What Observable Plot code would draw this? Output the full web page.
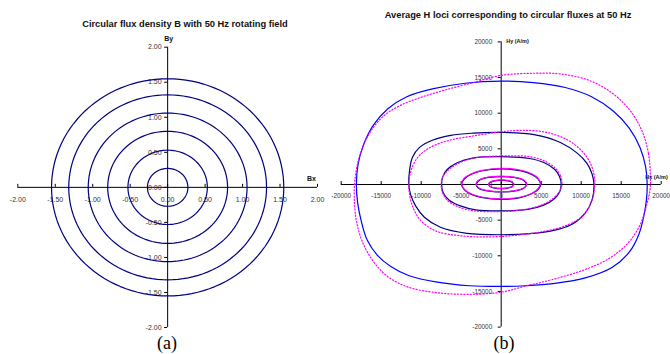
<!DOCTYPE html>
<html><head><meta charset="utf-8">
<script src="https://cdn.jsdelivr.net/npm/d3@7"></script>
<script src="https://cdn.jsdelivr.net/npm/@observablehq/plot@0.6"></script>
<style>
body{margin:0;background:#fff;}
#wrap{position:relative;width:670px;height:354px;overflow:hidden;font-family:"Liberation Sans",Arial,sans-serif;background:#fff;}
.t{position:absolute;font-weight:bold;font-size:9.3px;line-height:1;white-space:nowrap;transform:translateX(-50%);color:#111;}
.p{position:absolute;font-family:"Liberation Serif","Times New Roman",serif;font-size:18px;line-height:1;transform:translateX(-50%);color:#000;}
.pl{position:absolute;top:0;}
</style></head><body>
<div id="wrap">
  <div class="pl" id="pa" style="left:0"></div>
  <div class="pl" id="pb" style="left:335px"></div>
  <div class="t" style="left:185px;top:20px">Circular flux density B with 50 Hz rotating field</div>
  <div class="t" style="left:508px;top:11px">Average H loci corresponding to circular fluxes at 50 Hz</div>
  <div class="p" style="left:167px;top:334px">(a)</div>
  <div class="p" style="left:504px;top:334px">(b)</div>
</div>
<script>
// ---- chart (a) data ----
const bRadii = [0.27, 0.53, 0.80, 1.06, 1.32, 1.55];
const bTicks = [-2, -1.5, -1, -0.5, 0, 0.5, 1, 1.5, 2];
const bTickLabels = ["-2.00", "-1.50", "-1.00", "-0.50", "0.00", "0.50", "1.00", "1.50", "2.00"];

// ---- chart (b) data: [Hx, Hy] in kA/m (scaled to A/m when drawn) ----
const hTicks = [-20000, -15000, -10000, -5000, 0, 5000, 10000, 15000, 20000];
const hTickLabels = ["-20000", "-15000", "-10000", "-5000", "0", "5000", "10000", "15000", "20000"];

const loc6Solid = [[18.25,0],[18.05,2.5],[17.35,5.2],[16.0,7.9],[14.0,10.3],[11.3,12.3],[8.0,13.6],[4.0,14.3],[0,14.5],
  [-4.5,14.2],[-8.6,13.4],[-11.8,12.3],[-14.2,10.6],[-16.0,8.3],[-17.2,5.6],[-17.9,2.8],[-18.1,0],
  [-17.95,-2.5],[-17.5,-5.1],[-16.75,-7.8],[-15.5,-9.9],[-13.8,-11.5],[-11.5,-12.8],[-8.0,-13.7],[-4.0,-14.2],[0,-14.3],
  [3.0,-14.2],[6.5,-13.9],[10.5,-13.1],[13.9,-11.6],[16.0,-9.5],[17.2,-7.0],[17.85,-4.3],[18.15,-2.2]];
const loc6Dotted = [[18.65,1.2],[18.4,4.4],[17.6,7.5],[16.1,10.4],[13.9,12.8],[11.0,14.6],[7.5,15.5],[4.0,15.6],[0,15.3],
  [-3.8,14.2],[-7.2,13.2],[-10.1,12.2],[-12.6,11.1],[-14.7,9.6],[-16.4,7.3],[-17.7,4.0],[-18.3,0.5],
  [-18.35,-2.3],[-18.1,-5.1],[-17.4,-7.9],[-16.1,-10.6],[-14.2,-12.9],[-11.6,-14.4],[-7.8,-15.2],[-4.0,-15.4],[0,-15.1],
  [3.2,-14.2],[6.5,-13.3],[10.3,-12.0],[13.3,-10.5],[15.7,-8.4],[17.3,-5.8],[18.15,-3.0],[18.6,-0.7]];
const loc5Solid = [[11.6,0],[11.35,1.5],[10.7,3.0],[9.5,4.4],[7.4,5.9],[4.1,7.0],[0,7.3],[-3.5,7.2],[-6.3,6.9],[-8.6,6.2],
  [-10.2,5.2],[-11.1,3.8],[-11.45,2.0],[-11.55,0],[-11.3,-1.5],[-10.7,-3.0],[-9.6,-4.6],[-7.6,-6.0],[-4.3,-6.85],[0,-7.05],
  [3.5,-6.9],[6.3,-6.5],[8.8,-5.6],[10.5,-4.0],[11.35,-2.2]];
const loc5Dotted = [[11.7,0],[11.6,1.4],[11.1,3.1],[10.0,4.8],[8.2,6.3],[5.7,7.3],[3.0,7.6],[0,7.4],[-3.5,6.8],[-6.5,6.2],
  [-8.7,5.3],[-10.2,4.1],[-11.1,2.5],[-11.5,0.6],[-11.5,-1.0],[-11.1,-3.0],[-10.1,-5.0],[-8.2,-6.5],[-5.0,-7.2],[-1.5,-7.35],
  [2.0,-7.1],[5.2,-6.6],[8.0,-5.8],[10.2,-4.4],[11.35,-2.2]];
const loc4Solid = [[7.5,0],[7.3,1.1],[6.7,2.1],[5.4,3.05],[3.5,3.65],[0,3.9],[-3.6,3.7],[-5.5,3.05],[-6.75,2.1],[-7.3,1.1],[-7.45,0],
  [-7.25,-1.15],[-6.5,-2.2],[-5.1,-3.0],[-3.2,-3.55],[0,-3.7],[3.3,-3.5],[5.3,-2.9],[6.65,-2.0],[7.3,-1.05]];
const loc4Dotted = [[7.6,0.1],[7.4,1.25],[6.75,2.3],[5.5,3.25],[3.6,3.9],[0,4.0],[-3.4,3.7],[-5.4,2.95],[-6.7,1.95],[-7.35,0.95],[-7.5,-0.1],
  [-7.3,-1.25],[-6.6,-2.35],[-5.2,-3.2],[-3.3,-3.7],[0,-3.8],[3.2,-3.45],[5.2,-2.8],[6.6,-1.85],[7.35,-0.85]];
const loc3Solid = [[4.95,0],[4.6,0.8],[3.8,1.4],[2.5,1.9],[0,2.2],[-2.5,1.9],[-3.8,1.4],[-4.6,0.8],[-4.95,0],
  [-4.6,-0.75],[-3.8,-1.35],[-2.5,-1.8],[0,-2.1],[2.5,-1.8],[3.8,-1.3],[4.6,-0.7]];
const loc3Dotted = [[4.9,0.1],[4.6,0.9],[3.8,1.5],[2.5,2.0],[0,2.28],[-2.5,1.95],[-3.8,1.45],[-4.65,0.85],[-4.95,0.05],
  [-4.6,-0.7],[-3.8,-1.3],[-2.5,-1.75],[0,-2.02],[2.5,-1.75],[3.8,-1.25],[4.55,-0.65]];
const loc2Solid = [[3.15,0],[2.9,0.5],[2.2,0.85],[0,1.1],[-2.2,0.85],[-2.9,0.45],[-3.1,0],[-2.9,-0.45],[-2.2,-0.8],[0,-1.05],[2.2,-0.8],[2.9,-0.45]];
const loc2Dotted = [[3.2,0.05],[2.95,0.55],[2.2,0.9],[0,1.18],[-2.2,0.9],[-2.95,0.5],[-3.15,0.05],[-2.9,-0.4],[-2.2,-0.75],[0,-1.0],[2.2,-0.75],[2.95,-0.4]];
const loc1Solid = [[1.55,0],[1.35,0.33],[0.8,0.52],[0,0.6],[-0.8,0.52],[-1.35,0.32],[-1.55,0],[-1.35,-0.3],[-0.8,-0.5],[0,-0.58],[0.8,-0.5],[1.35,-0.3]];
const loc1Dotted = [[1.6,0.03],[1.4,0.37],[0.8,0.58],[0,0.66],[-0.8,0.56],[-1.38,0.35],[-1.57,0.02],[-1.35,-0.28],[-0.8,-0.47],[0,-0.54],[0.8,-0.47],[1.38,-0.28]];

// ---- build chart (a) ----
const circlePts = bRadii.flatMap(r => d3.range(0, 361, 3).map(a => ({r, x: r * Math.cos(a * Math.PI / 180), y: r * Math.sin(a * Math.PI / 180)})));
const common = {style: {background: "transparent", overflow: "visible", fontFamily: "Liberation Sans, Arial, sans-serif"}};

const chartA = Plot.plot({
  ...common,
  width: 335, height: 354,
  marginLeft: 17.3, marginRight: 18, marginTop: 46.7, marginBottom: 27,
  x: {domain: [-2, 2], axis: null},
  y: {domain: [-2, 2], axis: null},
  marks: [
    Plot.ruleY([0], {stroke: "#000", strokeWidth: 1}),
    Plot.ruleX([0], {stroke: "#000", strokeWidth: 1}),
    Plot.ruleX(bTicks, {x: d => d, y1: 0, y2: 0, insetTop: -3, insetBottom: 0, stroke: "#000"}),
    Plot.ruleY(bTicks, {y: d => d, x1: 0, x2: 0, insetLeft: -3, insetRight: 0, stroke: "#000"}),
    Plot.text(bTicks, {x: d => d, y: 0, text: (d, i) => bTickLabels[i], dy: 12, fontSize: 7, fill: "#333"}),
    Plot.text(bTicks, {x: 0, y: d => d, text: (d, i) => bTickLabels[i], dx: -6, textAnchor: "end", fontSize: 7, fill: "#333"}),
    Plot.line(circlePts, {x: "x", y: "y", z: "r", stroke: "#000080", strokeWidth: 1.2}),
    Plot.text(["By"], {x: 0, y: 2, dy: -8, dx: 1, text: d => d, fontWeight: "bold", fontSize: 7, fill: "#111"}),
    Plot.text(["Bx"], {x: 2, y: 0, dy: -9, dx: -6, text: d => d, fontWeight: "bold", fontSize: 7, fill: "#111"})
  ]
});
document.getElementById("pa").appendChild(chartA);

// ---- build chart (b) ----
const solidNavy = [loc5Solid, loc4Solid, loc3Solid, loc2Solid, loc1Solid];
const dottedAll = [loc6Dotted, loc5Dotted, loc4Dotted];
const innerMag = [loc3Dotted, loc2Dotted, loc1Dotted];
const lineOf = (pts, opts) => Plot.line(pts, {x: d => d[0] * 1000, y: d => d[1] * 1000, curve: "catmull-rom-closed", ...opts});

const chartB = Plot.plot({
  ...common,
  width: 335, height: 354,
  marginLeft: 5.7, marginRight: 9.3, marginTop: 41.4, marginBottom: 27.4,
  x: {domain: [-20000, 20000], axis: null},
  y: {domain: [-20000, 20000], axis: null},
  marks: [
    Plot.ruleY([0], {stroke: "#000", strokeWidth: 1}),
    Plot.ruleX([0], {stroke: "#000", strokeWidth: 1}),
    Plot.ruleX(hTicks, {x: d => d, y1: 0, y2: 0, insetTop: -3, insetBottom: 0, stroke: "#000"}),
    Plot.ruleY(hTicks, {y: d => d, x1: 0, x2: 0, insetLeft: -3, insetRight: 0, stroke: "#000"}),
    Plot.text(hTicks, {x: d => d, y: 0, text: (d, i) => hTickLabels[i], dy: 11, fontSize: 6.4, fill: "#333"}),
    Plot.text(hTicks, {x: 0, y: d => d, text: (d, i) => hTickLabels[i], dx: -9, textAnchor: "end", fontSize: 6.4, fill: "#333"}),
    lineOf(loc6Solid, {stroke: "#0000ff", strokeWidth: 1.2}),
    ...solidNavy.map(p => lineOf(p, {stroke: "#000080", strokeWidth: 1.2})),
    ...dottedAll.map(p => lineOf(p, {stroke: "#ff00ff", strokeWidth: 1.2, strokeDasharray: "1.2,2"})),
    ...innerMag.map(p => lineOf(p, {stroke: "#ff00ff", strokeWidth: 1.2})),
    Plot.text(["Hy (A/m)"], {x: 0, y: 20000, dx: 5, dy: -1, textAnchor: "start", text: d => d, fontWeight: "bold", fontSize: 5.5, fill: "#111"}),
    Plot.text(["Hx (A/m)"], {x: 20000, y: 0, dx: -16, dy: -7, textAnchor: "start", text: d => d, fontWeight: "bold", fontSize: 5.5, fill: "#111"})
  ]
});
document.getElementById("pb").appendChild(chartB);
</script>
</body></html>
